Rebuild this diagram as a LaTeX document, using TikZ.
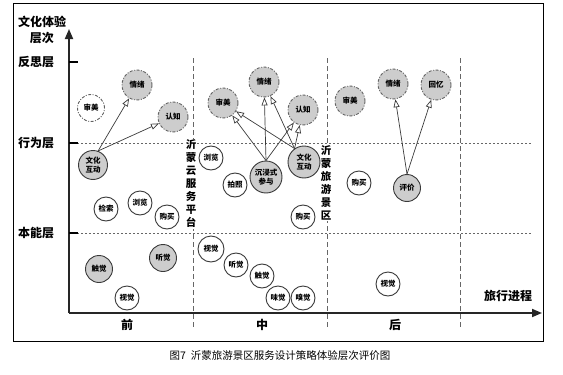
\documentclass[tikz,border=0pt]{standalone}
\usepackage{fontspec}
\setmainfont{Noto Sans CJK SC}
\usetikzlibrary{arrows.meta}
\definecolor{gfill}{HTML}{CDCDCD}
\definecolor{gline}{HTML}{3A3A3A}
\tikzset{
  x=1pt, y=-1pt,
  circ/.style={circle, draw=gline, line width=0.9pt, inner sep=0pt, font=\bfseries\fontsize{7.5}{8.5}\selectfont, align=center},
  wc/.style={circ, fill=white, minimum size=24pt},
  gc/.style={circ, fill=gfill, minimum size=27pt},
  dc/.style={circ, fill=gfill, minimum size=30pt, dash pattern=on 3pt off 1.5pt on 1pt off 1.5pt, draw=gline!80},
  dwc/.style={circ, fill=white, minimum size=27pt, dash pattern=on 3pt off 1.5pt on 1pt off 1.5pt, draw=gline!80},
  arr/.style={draw=gline, line width=0.7pt, -{Triangle[open, length=8pt, width=6pt]}},
  axis/.style={line width=1.8pt, draw=black!85, -{Triangle[length=10pt, width=8pt]}},
  hgrid/.style={draw=black!60, line width=0.7pt, dash pattern=on 2pt off 2pt},
  vgrid/.style={draw=black!60, line width=0.8pt, dash pattern=on 5pt off 3pt},
  lab/.style={font=\bfseries\fontsize{12}{13}\selectfont, inner sep=0pt},
  vlab/.style={font=\bfseries\fontsize{10.5}{13}\selectfont, align=center, inner sep=1pt, fill=white},
}
\begin{document}
\begin{tikzpicture}
\useasboundingbox (0,0) rectangle (563,375);
% frame
\draw[line width=0.8pt] (13,3) rectangle (543,341);
% grid
\coordinate (h1a) at (77,143); \coordinate (h1b) at (532,143);
\coordinate (h2a) at (77,233); \coordinate (h2b) at (532,233);
\draw[hgrid] (h1a) -- (h1b);
\draw[hgrid] (h2a) -- (h2b);
\coordinate (v1a) at (193,58); \coordinate (v1b) at (193,327);
\coordinate (v2a) at (327,58); \coordinate (v2b) at (327,327);
\coordinate (v3a) at (460,58); \coordinate (v3b) at (460,327);
\draw[vgrid] (v1a) -- (v1b);
\draw[vgrid] (v2a) -- (v2b);
\draw[vgrid] (v3a) -- (v3b);
% axes
\coordinate (O) at (69,313); \coordinate (ytop) at (69,29); \coordinate (xend) at (542,313);
\draw[axis] (O) -- (ytop);
\draw[axis] (O) -- (xend);
% ticks
\coordinate (t1a) at (69,62); \coordinate (t1b) at (78,62);
\coordinate (t2a) at (69,143); \coordinate (t2b) at (78,143);
\coordinate (t3a) at (69,233); \coordinate (t3b) at (78,233);
\draw[line width=1.2pt] (t1a) -- (t1b);
\draw[line width=1.2pt] (t2a) -- (t2b);
\draw[line width=1.2pt] (t3a) -- (t3b);
% axis labels
\node[lab] (ylab) at (42,22) {文化体验};
\node[lab] (ylab2) at (42,38) {层次};
\node[lab] (l1) at (36,62) {反思层};
\node[lab] (l2) at (36,143) {行为层};
\node[lab] (l3) at (36,233) {本能层};
\node[lab] (xq) at (127,325) {前};
\node[lab] (xz) at (262,325) {中};
\node[lab] (xh) at (395,325) {后};
\node[lab] (xlab) at (508,296) {旅行进程};
\node[vlab] (vt1) at (191,184) {沂\\蒙\\云\\服\\务\\平\\台};
\node[vlab] (vt2) at (326,183) {沂\\蒙\\旅\\游\\景\\区};
% left region
\node[dwc] (a_sm) at (91,108) {审美};
\node[dc] (a_qx) at (137,85) {情绪};
\node[dc] (a_rz) at (173,117) {认知};
\node[gc, minimum size=29pt] (a_wh) at (93,165) {文化\\互动};
\node[wc] (a_js) at (106,209) {检索};
\node[wc] (a_ll) at (140,203) {浏览};
\node[wc] (a_gm) at (167,217) {购买};
\node[gc] (a_cj) at (99,269) {触觉};
\node[gc] (a_tj) at (163,258) {听觉};
\node[wc] (a_sj) at (127,298) {视觉};
\draw[arr] (a_wh.70) -- (a_qx);
\draw[arr] (a_wh.70) -- (a_rz);
% middle region
\node[dc] (b_sm) at (223,103) {审美};
\node[dc] (b_qx) at (264,82) {情绪};
\node[dc] (b_rz) at (303,110) {认知};
\node[wc] (b_ll) at (211,158) {浏览};
\node[wc] (b_pz) at (235,185) {拍照};
\node[gc, minimum size=32pt] (b_cj) at (266,177) {沉浸式\\参与};
\node[gc, minimum size=32pt] (b_wh) at (304,162) {文化\\互动};
\node[wc] (b_gm) at (303,217) {购买};
\node[wc, minimum size=26pt] (b_sj) at (211,249) {视觉};
\node[wc] (b_tj) at (236,265) {听觉};
\node[wc] (b_cu) at (262,276) {触觉};
\node[wc] (b_wj) at (278,298) {味觉};
\node[wc] (b_xj) at (303,298) {嗅觉};
\draw[arr] (b_cj.north) -- (b_sm);
\draw[arr] (b_cj.north) -- (b_qx);
\draw[arr] (b_cj.north) -- (b_rz);
\draw[arr] (b_wh.125) -- (b_sm);
\draw[arr] (b_wh.125) -- (b_qx);
\draw[arr] (b_wh.125) -- (b_rz);
% right region
\node[dc] (c_sm) at (350,101) {审美};
\node[dc] (c_qx) at (393,84) {情绪};
\node[dc] (c_hy) at (436,85) {回忆};
\node[wc] (c_gm) at (359,183) {购买};
\node[gc] (c_pj) at (407,188) {评价};
\node[wc] (c_sj) at (388,284) {视觉};
\draw[arr] (c_pj.north) -- (c_qx);
\draw[arr] (c_pj.north) -- (c_hy);
% caption
\node[font=\fontsize{10.5}{12}\selectfont, inner sep=0pt] (cap) at (280,356) {图7\ \ 沂蒙旅游景区服务设计策略体验层次评价图};
\end{tikzpicture}
\end{document}
